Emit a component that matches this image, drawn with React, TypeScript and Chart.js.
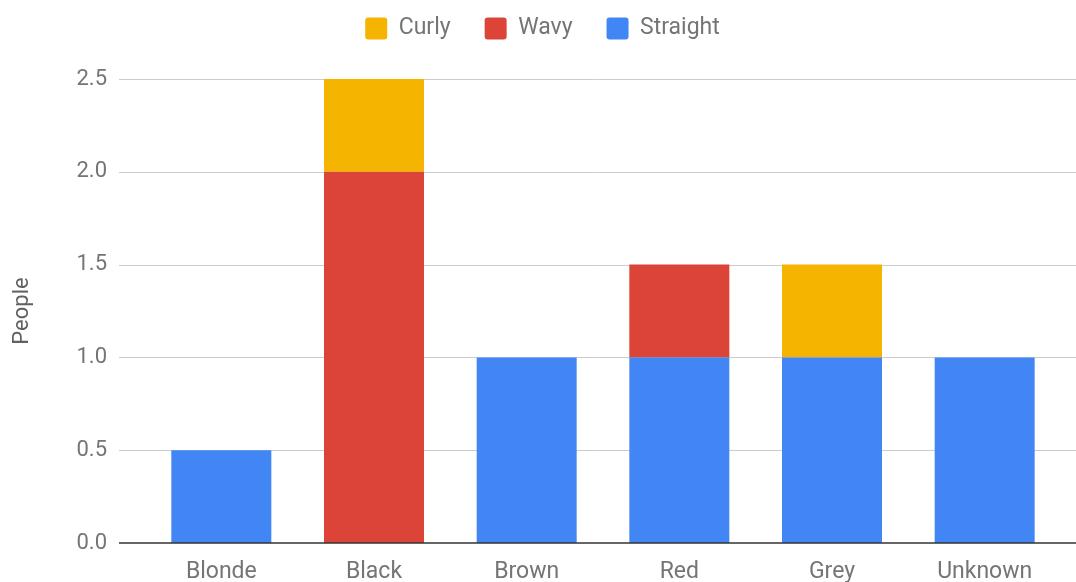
import React, { useEffect, useRef } from "react";
import { Chart, registerables } from "chart.js";

Chart.register(...registerables);

const categories = ["Blonde", "Black", "Brown", "Red", "Grey", "Unknown"];
const straightValues = [0.5, 0, 1, 1, 1, 1];
const wavyValues = [0, 2, 0, 0.5, 0, 0];
const curlyValues = [0, 0.5, 0, 0, 0.5, 0];
const yTickValues = [0, 0.5, 1, 1.5, 2, 2.5];

const TEXT = "#757575";
const FONT = "Roboto";

const gridPlugin = {
  id: "extGrid",
  beforeDatasetsDraw(chart: any) {
    const y = chart.scales.y;
    const ctx = chart.ctx;
    ctx.save();
    ctx.strokeStyle = "#cccccc";
    ctx.lineWidth = 1;
    y.ticks.forEach((t: any) => {
      if (t.value === 0) return;
      const py = Math.round(y.getPixelForValue(t.value)) + 0.5;
      ctx.beginPath();
      ctx.moveTo(119, py);
      ctx.lineTo(chart.width, py);
      ctx.stroke();
    });
    ctx.restore();
  },
  afterDatasetsDraw(chart: any) {
    const y = chart.scales.y;
    const ctx = chart.ctx;
    ctx.save();
    ctx.strokeStyle = "#333333";
    ctx.lineWidth = 1.6;
    const py = y.getPixelForValue(0);
    ctx.beginPath();
    ctx.moveTo(119, py);
    ctx.lineTo(chart.width, py);
    ctx.stroke();
    ctx.restore();
  },
};

const legendSpacer = {
  id: "legendSpacer",
  beforeInit(chart: any) {
    const legend = chart.legend;
    if (!legend) return;
    const origFit = legend.fit;
    legend.fit = function () {
      origFit.call(this);
      this.height += 29;
    };
  },
};

export default function App() {
  const ref = useRef<HTMLCanvasElement | null>(null);
  useEffect(() => {
    if (!ref.current) return;
    const chart = new Chart(ref.current, {
      type: "bar",
      data: {
        labels: categories,
        datasets: [
          { label: "Straight", data: straightValues, backgroundColor: "#4285F4" },
          { label: "Wavy", data: wavyValues, backgroundColor: "#DB4437" },
          { label: "Curly", data: curlyValues, backgroundColor: "#F4B400" },
        ],
      },
      options: {
        responsive: false,
        animation: false,
        datasets: { bar: { categoryPercentage: 1, barPercentage: 0.655 } },
        layout: { padding: { top: -17, right: 15, bottom: 0, left: 24 } },
        plugins: {
          tooltip: { enabled: false },
          legend: {
            position: "top",
            reverse: true,
            labels: {
              boxWidth: 22,
              boxHeight: 22,
              useBorderRadius: true,
              borderRadius: 3,
              padding: 34,
              color: TEXT,
              font: { family: FONT, size: 23 },
            },
          },
        },
        scales: {
          x: {
            stacked: true,
            grid: { display: false, drawTicks: false },
            border: { display: false },
            afterFit(scale: any) {
              scale.height = 39;
            },
            ticks: { color: TEXT, font: { family: FONT, size: 23 }, padding: 15 },
          },
          y: {
            stacked: true,
            min: 0,
            max: 2.5,
            afterBuildTicks(scale: any) {
              scale.ticks = yTickValues.map((v) => ({ value: v }));
            },
            afterFit(scale: any) {
              scale.width = 121;
              scale.paddingBottom = 0;
              scale.paddingTop = 0;
            },
            grid: { display: false, drawTicks: false },
            border: { display: false },
            ticks: {
              color: TEXT,
              font: { family: FONT, size: 22 },
              padding: 38,
              callback: (v: any) => Number(v).toFixed(1),
            },
            title: {
              display: true,
              text: "People",
              color: "#616161",
              font: { family: FONT, size: 22 },
              padding: { top: -15, bottom: 0 },
            },
          },
        },
      },
      plugins: [gridPlugin, legendSpacer],
    } as any);
    return () => chart.destroy();
  }, []);
  return (
    <canvas
      ref={ref}
      width={1076}
      height={582}
      style={{ position: "absolute", left: 0, top: 0, display: "block", background: "#ffffff" }}
    />
  );
}
